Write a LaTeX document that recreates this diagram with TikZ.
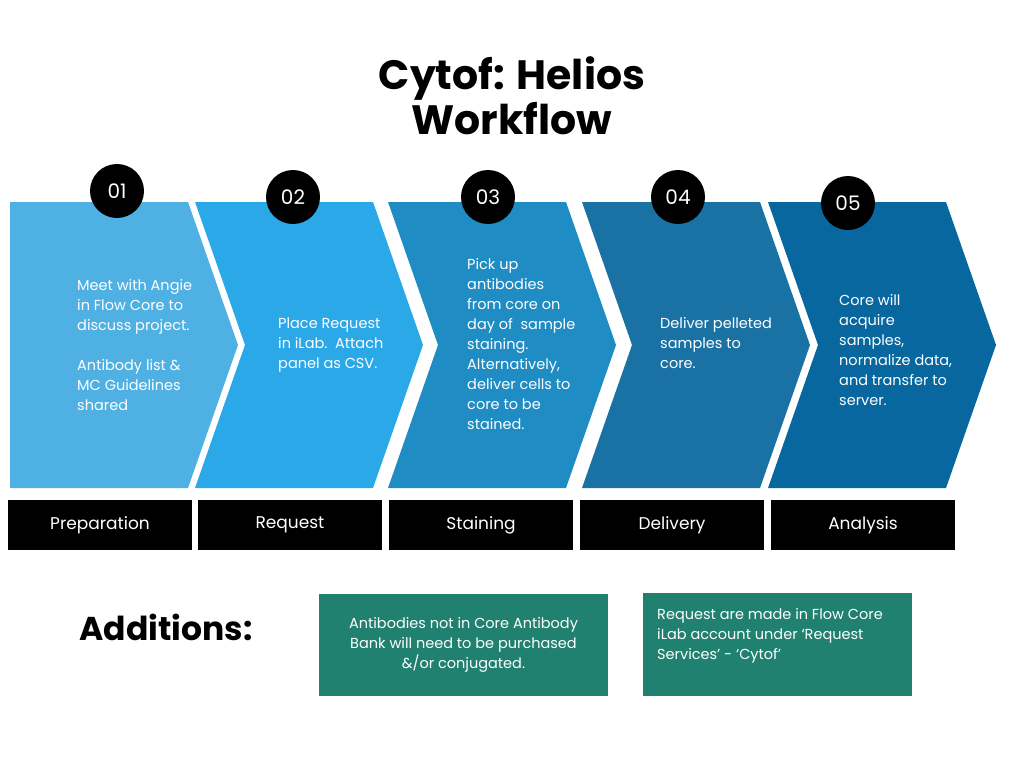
\documentclass[tikz,border=0pt]{standalone}
\usepackage{fontspec}
\setmainfont{Poppins}
\usetikzlibrary{positioning}
\definecolor{stepA}{HTML}{4FB1E3}
\definecolor{stepB}{HTML}{2AA8E8}
\definecolor{stepC}{HTML}{1F8CC4}
\definecolor{stepD}{HTML}{1A72A4}
\definecolor{stepE}{HTML}{07679E}
\definecolor{noteclr}{HTML}{208170}
\tikzset{
  stepno/.style={circle,fill=black,minimum size=54pt,inner sep=0pt,text=white,font=\fontsize{20}{20}\selectfont},
  steptxt/.style={anchor=west,align=left,text=white,font=\fontsize{14.5}{20}\selectfont,inner sep=0pt},
  phase/.style={fill=black,minimum width=184pt,minimum height=50pt,inner sep=0pt,text=white,font=\fontsize{17}{17}\selectfont},
  note/.style={fill=noteclr,text=white,align=center,inner sep=0pt,font=\fontsize{14.5}{20}\selectfont}
}
\begin{document}
\begin{tikzpicture}[x=1pt,y=-1pt]
\useasboundingbox (0,0) rectangle (1024,768);
% title
\node[font=\bfseries\fontsize{41}{45}\selectfont,align=center] (title) at (512,96) {Cytof: Helios\\Workflow};
% chevrons
\foreach \x/\c [count=\i] in {10/stepA,195/stepB,388/stepC,582/stepD,768/stepE}{
  \ifnum\i=1
    \fill[\c] (\x,202) -- (\x+178,202) -- (\x+228,345) -- (\x+178,488) -- (\x,488) -- cycle;
  \else
    \fill[\c] (\x,202) -- (\x+178,202) -- (\x+228,345) -- (\x+178,488) -- (\x,488) -- (\x+50,345) -- cycle;
  \fi
}
\node[stepno] (n1) at (117,191) {01};
\node[stepno] (n2) at (293,197) {02};
\node[stepno] (n3) at (488,197) {03};
\node[stepno] (n4) at (678,197) {04};
\node[stepno] (n5) at (848,203) {05};
\node[steptxt] (t1) at (77,345) {Meet with Angie\\in Flow Core to\\discuss project.\\[20pt]Antibody list \&\\MC Guidelines\\shared};
\node[steptxt] (t2) at (278,345) {Place Request\\in iLab.\ \ Attach\\panel as CSV.};
\node[steptxt] (t3) at (467,344) {Pick up\\antibodies\\from core on\\day of\ \ sample\\staining.\\Alternatively,\\deliver cells to\\core to be\\stained.};
\node[steptxt] (t4) at (660,343) {Deliver pelleted\\samples to\\core.};
\node[steptxt] (t5) at (839,350) {Core will\\acquire\\samples,\\normalize data,\\and transfer to\\server.};
% phases
\node[phase] (p1) at (100,525) {Preparation};
\node[phase] (p2) at (290,525) {Request};
\node[phase] (p3) at (481,525) {Staining};
\node[phase] (p4) at (672,525) {Delivery};
\node[phase] (p5) at (863,525) {Analysis};
% additions
\node[font=\bfseries\fontsize{33}{33}\selectfont,anchor=west] (add) at (76,627) {Additions:};
\node[note,minimum width=289pt,minimum height=102pt] (b1) at (463.5,645) {Antibodies not in Core Antibody\\Bank will need to be purchased\\\&/or conjugated.};
\node[note,minimum width=269pt,minimum height=103pt] (b2) at (777.5,644.5) {};
\node[anchor=north west,align=left,text=white,inner sep=0pt,font=\fontsize{14.5}{20}\selectfont] (b2t) at (657,608) {Request are made in Flow Core\\iLab account under ‘Request\\Services’ - ‘Cytof’};
\end{tikzpicture}
\end{document}
